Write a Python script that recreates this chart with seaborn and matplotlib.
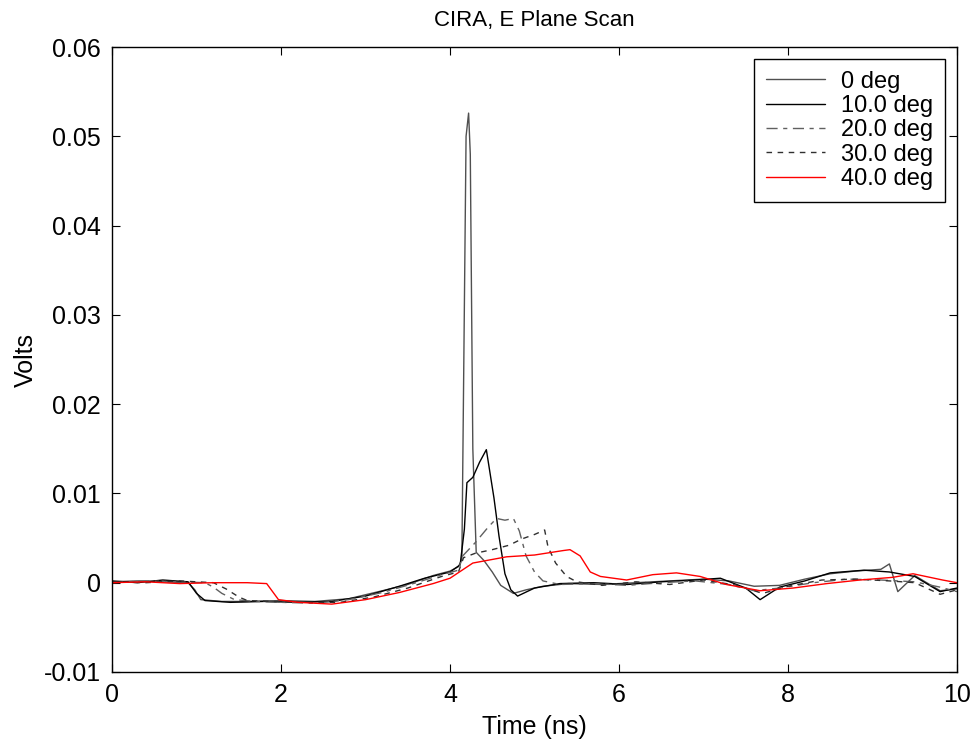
import pandas as pd
import numpy as np
import matplotlib
matplotlib.use("Agg")
import matplotlib.pyplot as plt
import seaborn as sns

# hand-read points from the scope traces (time in ns, volts)
t_0deg = [0, 0.3, 0.6, 0.9, 0.98, 1.05, 1.3, 1.6, 2.0, 2.4, 2.8, 3.2, 3.5, 3.8, 4.0,
          4.1, 4.14, 4.19, 4.22, 4.24, 4.27, 4.31, 4.4, 4.5, 4.6, 4.75, 4.9, 5.1, 5.4,
          5.8, 6.2, 6.6, 7.0, 7.3, 7.6, 7.9, 8.2, 8.5, 8.8, 9.1, 9.2, 9.3, 9.5, 9.8, 10]
v_0deg = [0.0001, 0.0002, 0.0001, 0.0000, -0.0008, -0.0019, -0.0021, -0.0021, -0.0020,
          -0.0021, -0.0018, -0.0009, -0.0002, 0.0008, 0.0013, 0.0018, 0.0026, 0.0500,
          0.0526, 0.0480, 0.0150, 0.0034, 0.0025, 0.0012, -0.0003, -0.0012, -0.0008,
          -0.0004, -0.0001, -0.0002, 0.0000, 0.0002, 0.0004, 0.0002, -0.0004, -0.0003,
          0.0004, 0.0010, 0.0013, 0.0015, 0.0021, -0.0010, 0.0008, -0.0009, -0.0007]

t_10deg = [0, 0.3, 0.6, 0.9, 1.0, 1.1, 1.4, 1.8, 2.2, 2.6, 3.0, 3.4, 3.7, 4.0, 4.12,
           4.17, 4.2, 4.27, 4.35, 4.43, 4.47, 4.52, 4.58, 4.65, 4.72, 4.8, 5.0, 5.3,
           5.7, 6.1, 6.5, 6.9, 7.2, 7.5, 7.67, 7.9, 8.2, 8.5, 8.9, 9.2, 9.5, 9.8, 10]
v_10deg = [0.0002, 0.0000, 0.0003, 0.0001, -0.0012, -0.0020, -0.0022, -0.0021, -0.0022,
           -0.0021, -0.0015, -0.0004, 0.0005, 0.0012, 0.0020, 0.0060, 0.0112, 0.0118,
           0.0135, 0.0149, 0.0125, 0.0095, 0.0052, 0.0010, -0.0008, -0.0015, -0.0006,
           -0.0001, 0.0000, -0.0002, 0.0001, 0.0003, 0.0005, -0.0006, -0.0019, -0.0005,
           0.0002, 0.0011, 0.0014, 0.0012, 0.0007, -0.0010, -0.0006]

t_20deg = [0, 0.4, 0.8, 1.1, 1.2, 1.3, 1.45, 1.7, 2.0, 2.4, 2.8, 3.2, 3.6, 3.9, 4.1,
           4.15, 4.3, 4.45, 4.55, 4.65, 4.75, 4.82, 4.9, 5.0, 5.1, 5.3, 5.7, 6.1, 6.5,
           6.9, 7.3, 7.6, 7.9, 8.3, 8.7, 9.1, 9.5, 9.8, 10]
v_20deg = [0.0000, 0.0002, 0.0001, 0.0000, -0.0005, -0.0012, -0.0019, -0.0021, -0.0022,
           -0.0023, -0.0019, -0.0011, 0.0000, 0.0009, 0.0014, 0.0030, 0.0045, 0.0062,
           0.0072, 0.0070, 0.0072, 0.0058, 0.0030, 0.0012, 0.0002, -0.0002, -0.0001,
           -0.0003, 0.0000, 0.0002, -0.0002, -0.0009, -0.0006, 0.0000, 0.0004, 0.0003,
           0.0001, -0.0005, -0.0010]

t_30deg = [0, 0.4, 0.8, 1.2, 1.35, 1.5, 1.6, 1.9, 2.3, 2.7, 3.1, 3.5, 3.9, 4.1, 4.16,
           4.3, 4.5, 4.7, 4.85, 5.0, 5.12, 5.16, 5.25, 5.38, 5.5, 5.8, 6.2, 6.6, 7.0,
           7.4, 7.7, 8.0, 8.4, 8.8, 9.2, 9.5, 9.8, 10]
v_30deg = [0.0001, 0.0000, 0.0002, 0.0000, -0.0007, -0.0016, -0.0020, -0.0021, -0.0022,
           -0.0022, -0.0016, -0.0006, 0.0007, 0.0012, 0.0028, 0.0033, 0.0037, 0.0042,
           0.0049, 0.0054, 0.0059, 0.0040, 0.0022, 0.0007, 0.0001, -0.0003, 0.0001,
           -0.0002, 0.0003, -0.0003, -0.0012, -0.0004, 0.0003, 0.0004, 0.0002, 0.0000,
           -0.0013, -0.0008]

t_40deg = [0, 0.4, 0.8, 1.2, 1.6, 1.83, 1.9, 1.97, 2.2, 2.6, 3.0, 3.4, 3.8, 4.0, 4.27,
           4.67, 5.0, 5.34, 5.42, 5.54, 5.66, 5.78, 6.09, 6.4, 6.68, 6.96, 7.27, 7.67,
           8.06, 8.46, 8.85, 9.24, 9.48, 9.83, 10]
v_40deg = [0.0000, 0.0001, -0.0001, 0.0000, 0.0000, -0.0001, -0.0010, -0.0019, -0.0022,
           -0.0024, -0.0019, -0.0011, -0.0001, 0.0005, 0.0022, 0.0029, 0.0031, 0.0036,
           0.0037, 0.0030, 0.0012, 0.0007, 0.0003, 0.0009, 0.0011, 0.0007, -0.0002,
           -0.0009, -0.0006, -0.0001, 0.0003, 0.0006, 0.0010, 0.0003, 0.0000]

labels = ['0 deg', '10.0 deg', '20.0 deg', '30.0 deg', '40.0 deg']
x_ticks = [0, 2, 4, 6, 8, 10]
x_tick_labels = ['0', '2', '4', '6', '8', '10']
y_ticks = [-0.01, 0, 0.01, 0.02, 0.03, 0.04, 0.05, 0.06]
y_tick_labels = ['-0.01', '0', '0.01', '0.02', '0.03', '0.04', '0.05', '0.06']

traces = [(t_0deg, v_0deg), (t_10deg, v_10deg), (t_20deg, v_20deg),
          (t_30deg, v_30deg), (t_40deg, v_40deg)]
frames = []
for lab, (t, v) in zip(labels, traces):
    frames.append(pd.DataFrame({'time': t, 'volts': v, 'angle': lab}))
df = pd.concat(frames, ignore_index=True)

sns.set_theme(style='ticks')
plt.rcParams['font.family'] = ['Liberation Sans', 'DejaVu Sans']
plt.rcParams['text.color'] = 'black'
plt.rcParams['axes.labelcolor'] = 'black'

palette = {'0 deg': '#505050', '10.0 deg': 'black', '20.0 deg': '#606060',
           '30.0 deg': '#303030', '40.0 deg': 'red'}
dashes = {'0 deg': '', '10.0 deg': '', '20.0 deg': (8, 4, 3, 4),
          '30.0 deg': (4, 4), '40.0 deg': ''}

fig = plt.figure(figsize=(9.76, 7.43), dpi=100)
ax = fig.add_axes([0.1148, 0.0956, 0.8657, 0.8411])

sns.lineplot(data=df, x='time', y='volts', hue='angle', style='angle',
             palette=palette, dashes=dashes, hue_order=labels, style_order=labels,
             estimator=None, sort=False, linewidth=1.0, ax=ax, legend=True)

ax.set_xlim(0, 10)
ax.set_ylim(-0.01, 0.06)
ax.set_xticks(x_ticks)
ax.set_xticklabels(x_tick_labels)
ax.set_yticks(y_ticks)
ax.set_yticklabels(y_tick_labels)
ax.tick_params(direction='in', length=6, width=0.8, top=True, right=True,
               labelsize=18, colors='black', pad=8)
for sp in ax.spines.values():
    sp.set_visible(True)
    sp.set_color('black')
    sp.set_linewidth(1.0)

ax.set_title('CIRA, E Plane Scan', fontsize=16, pad=15, color='black')
ax.set_xlabel('Time (ns)', fontsize=18, labelpad=6)
ax.set_ylabel('Volts', fontsize=18, labelpad=4)

handles, lbls = ax.get_legend_handles_labels()
leg = ax.legend(handles, lbls, loc='upper right', fontsize=17, frameon=True,
                fancybox=False, edgecolor='black', framealpha=1,
                handlelength=2.5, handletextpad=0.7, labelspacing=0.1,
                borderpad=0.5, borderaxespad=0.5)
leg.get_frame().set_linewidth(1.0)
for txt in leg.get_texts():
    txt.set_color('black')

fig.savefig('out.png', dpi=100, facecolor='white')
